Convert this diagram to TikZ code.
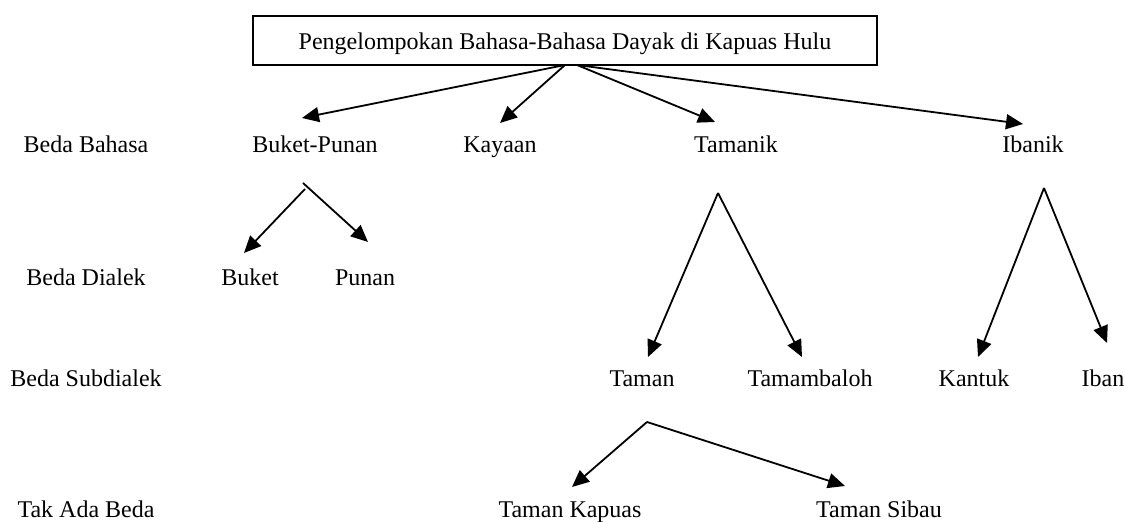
\documentclass[tikz,border=0pt]{standalone}
\usepackage{fontspec}
\setmainfont{Liberation Serif}
\usetikzlibrary{arrows.meta}
\tikzset{
  lbl/.style={font=\fontsize{12}{14}\selectfont, anchor=base, inner sep=0pt},
  titlebox/.style={draw, line width=0.9pt, font=\fontsize{12}{14}\selectfont,
    minimum width=312pt, minimum height=24.5pt, text height=11pt, text depth=1.5pt, inner sep=0pt},
  arr/.style={line width=0.9pt, -{Triangle[length=8.5pt,width=7.5pt]}}
}
\begin{document}
\begin{tikzpicture}[x=0.5pt,y=-0.5pt]
\useasboundingbox (0,0) rectangle (1125,522);
% title
\node[titlebox] (top) at (565,40.5) {Pengelompokan Bahasa-Bahasa Dayak di Kapuas Hulu};
% level labels
\node[lbl] (lab1) at (86,153) {Beda Bahasa};
\node[lbl] (lab2) at (86,286) {Beda Dialek};
\node[lbl] (lab3) at (86,387) {Beda Subdialek};
\node[lbl] (lab4) at (86,518) {Tak Ada Beda};
% row 1
\node[lbl] (bp) at (315,153) {Buket-Punan};
\node[lbl] (ky) at (500,153) {Kayaan};
\node[lbl] (tm) at (736,153) {Tamanik};
\node[lbl] (ib) at (1033,153) {Ibanik};
% row 2
\node[lbl] (bk) at (250,286) {Buket};
\node[lbl] (pn) at (365,286) {Punan};
% row 3
\node[lbl] (ta) at (642,387) {Taman};
\node[lbl] (tb) at (810,387) {Tamambaloh};
\node[lbl] (kt) at (974,387) {Kantuk};
\node[lbl] (iban) at (1103,387) {Iban};
% row 4
\node[lbl] (tk) at (570,518) {Taman Kapuas};
\node[lbl] (ts) at (879,518) {Taman Sibau};
% connector points
\coordinate (sL) at (565,65);
\coordinate (sR) at (577,65);
\coordinate (tBP) at (302,118);
\coordinate (tKY) at (500,123);
\coordinate (tTM) at (715,122);
\coordinate (tIB) at (1023,124);
\coordinate (sBP1) at (305,189);
\coordinate (sBP2) at (303,183);
\coordinate (tBK) at (244,253);
\coordinate (tPN) at (368,242);
\coordinate (sTM) at (718,193);
\coordinate (tTA) at (648,357);
\coordinate (tTB) at (802,357);
\coordinate (sIB) at (1044,188);
\coordinate (tKT) at (978,357);
\coordinate (tIBn) at (1107,343);
\coordinate (sTA) at (647,422);
\coordinate (tTK) at (572,487);
\coordinate (tTS) at (845,486);
% connectors
\draw[arr] (sL) -- (tBP);
\draw[arr] (sL) -- (tKY);
\draw[arr] (sR) -- (tTM);
\draw[arr] (sR) -- (tIB);
\draw[arr] (sBP1) -- (tBK);
\draw[arr] (sBP2) -- (tPN);
\draw[arr] (sTM) -- (tTA);
\draw[arr] (sTM) -- (tTB);
\draw[arr] (sIB) -- (tKT);
\draw[arr] (sIB) -- (tIBn);
\draw[arr] (sTA) -- (tTK);
\draw[arr] (sTA) -- (tTS);
\end{tikzpicture}
\end{document}
